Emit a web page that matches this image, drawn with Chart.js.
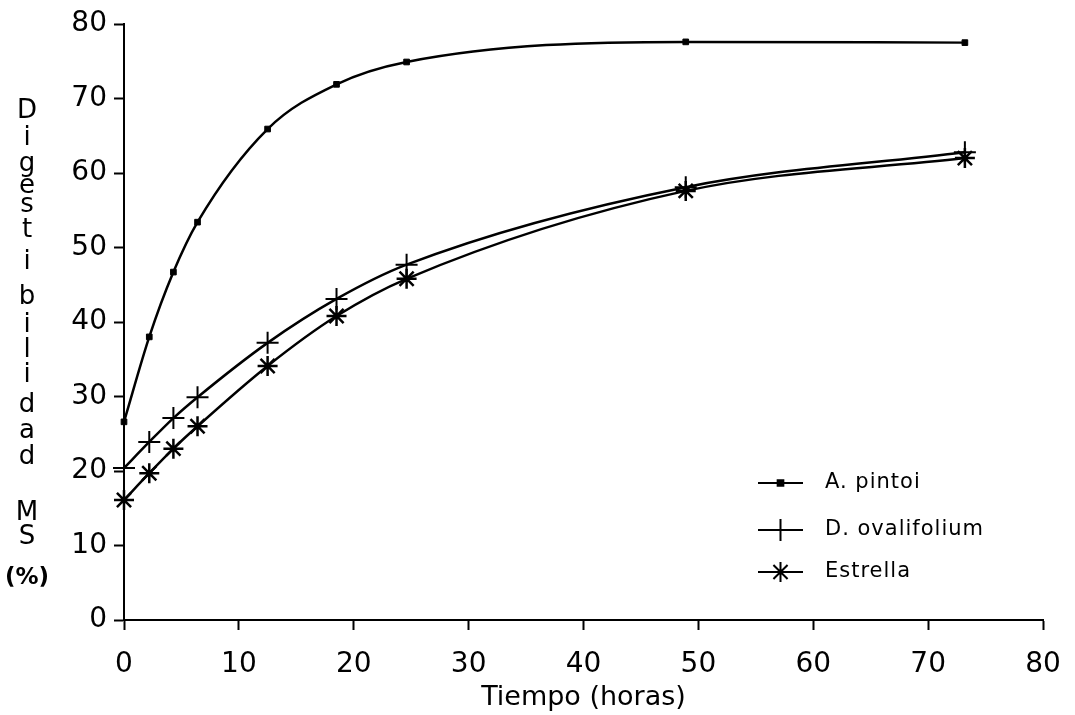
<!DOCTYPE html>
<html>
<head>
<meta charset="utf-8">
<script src="https://cdn.jsdelivr.net/npm/chart.js"></script>
<style>
  html, body { margin: 0; padding: 0; background: #fff; }
  #wrap { width: 1075px; height: 715px; position: relative; }
</style>
</head>
<body>
<div id="wrap"><canvas id="chart" width="1075" height="715"></canvas></div>
<script>
// Data
const hours = [0, 2.2, 4.3, 6.4, 12.5, 18.5, 24.6, 48.9, 73.2];
const pintoi = [26.6, 38.0, 46.7, 53.4, 65.9, 71.9, 74.9, 77.6, 77.5];
const ovalifolium = [20.4, 23.9, 27.1, 29.9, 37.2, 43.1, 47.7, 58.1, 62.8];
const estrella = [16.1, 19.7, 23.0, 26.0, 34.1, 40.8, 45.8, 57.6, 62.0];

const seriesNames = ['A. pintoi', 'D. ovalifolium', 'Estrella'];
const xTicks = [0, 10, 20, 30, 40, 50, 60, 70, 80];
const yTicks = [0, 10, 20, 30, 40, 50, 60, 70, 80];

const yTitleWord = ['D', 'i', 'g', 'e', 's', 't', 'i', 'b', 'i', 'l', 'i', 'd', 'a', 'd'];

const FONT = '"DejaVu Sans", sans-serif';

function toPoints(values) {
  return hours.map((h, i) => ({ x: h, y: values[i] }));
}

// Vertical stacked y-axis title
const yTitlePlugin = {
  id: 'yTitle',
  afterDraw(chart) {
    const ctx = chart.ctx;
    const rows = [111, 138, 164, 186, 205, 230, 262, 297, 325, 350, 375, 405, 431, 457];
    ctx.save();
    ctx.fillStyle = '#000';
    ctx.textAlign = 'center';
    ctx.textBaseline = 'middle';
    ctx.font = '26px ' + FONT;
    yTitleWord.forEach((ch, i) => ctx.fillText(ch, 27, rows[i]));
    ctx.fillText('M', 27, 513);
    ctx.fillText('S', 27, 537);
    ctx.font = 'bold 23px ' + FONT;
    ctx.fillText('(%)', 27, 578);
    ctx.restore();
  }
};

// Legend with line + marker, inside the plot
const legendPlugin = {
  id: 'lineLegend',
  afterDraw(chart) {
    const ctx = chart.ctx;
    const rows = [483, 530, 572];
    const x0 = 758, x1 = 803;
    ctx.save();
    chart.data.datasets.forEach((ds, i) => {
      const y = rows[i];
      ctx.strokeStyle = '#000';
      ctx.lineWidth = 2;
      ctx.beginPath();
      ctx.moveTo(x0, y);
      ctx.lineTo(x1, y);
      ctx.stroke();
      Chart.helpers.drawPoint(ctx, {
        pointStyle: ds.pointStyle,
        radius: ds.pointRadius,
        borderWidth: ds.pointBorderWidth,
        rotation: 0
      }, (x0 + x1) / 2, y);
      ctx.fillStyle = '#000';
      ctx.font = '21px ' + FONT;
      ctx.letterSpacing = '1px';
      ctx.textAlign = 'left';
      ctx.textBaseline = 'middle';
      ctx.fillText(ds.label, 825, y);
    });
    ctx.restore();
  }
};

const ctx = document.getElementById('chart');

new Chart(ctx, {
  type: 'line',
  data: {
    datasets: [
      {
        label: seriesNames[0],
        data: toPoints(pintoi),
        borderColor: '#000',
        backgroundColor: '#000',
        borderWidth: 2.5,
        pointStyle: 'rect',
        pointRadius: 4,
        pointBorderWidth: 1,
        pointBackgroundColor: '#000',
        pointBorderColor: '#000',
        cubicInterpolationMode: 'monotone',
        clip: false
      },
      {
        label: seriesNames[1],
        data: toPoints(ovalifolium),
        borderColor: '#000',
        backgroundColor: '#000',
        borderWidth: 2.5,
        pointStyle: 'cross',
        pointRadius: 11,
        pointBorderWidth: 2,
        pointBorderColor: '#000',
        cubicInterpolationMode: 'monotone',
        clip: false
      },
      {
        label: seriesNames[2],
        data: toPoints(estrella),
        borderColor: '#000',
        backgroundColor: '#000',
        borderWidth: 2.5,
        pointStyle: 'star',
        pointRadius: 10,
        pointBorderWidth: 2.5,
        pointBorderColor: '#000',
        cubicInterpolationMode: 'monotone',
        clip: false
      }
    ]
  },
  options: {
    responsive: false,
    animation: false,
    layout: { padding: { top: 24, right: 32, bottom: 0, left: 0 } },
    plugins: {
      legend: { display: false },
      tooltip: { enabled: false }
    },
    scales: {
      x: {
        type: 'linear',
        min: 0,
        max: 80,
        afterFit: (scale) => { scale.height = 95; },
        afterBuildTicks: (scale) => { scale.ticks = xTicks.map(v => ({ value: v })); },
        ticks: { color: '#000', font: { family: FONT, size: 28, lineHeight: 1.6 }, padding: 12, maxRotation: 0 },
        grid: { drawOnChartArea: false, drawTicks: true, tickLength: 10, tickColor: '#000', tickWidth: 2 },
        border: { color: '#000', width: 2 },
        title: {
          display: true,
          text: 'Tiempo (horas)',
          color: '#000',
          font: { family: FONT, size: 27 },
          padding: { top: 0, bottom: 1 }
        }
      },
      y: {
        type: 'linear',
        min: 0,
        max: 80,
        afterFit: (scale) => { scale.width = 124; },
        afterBuildTicks: (scale) => { scale.ticks = yTicks.map(v => ({ value: v })); },
        ticks: { color: '#000', font: { family: FONT, size: 28 }, padding: 7 },
        grid: { drawOnChartArea: false, drawTicks: true, tickLength: 10, tickColor: '#000', tickWidth: 2 },
        border: { color: '#000', width: 2 }
      }
    }
  },
  plugins: [yTitlePlugin, legendPlugin]
});
</script>
</body>
</html>
